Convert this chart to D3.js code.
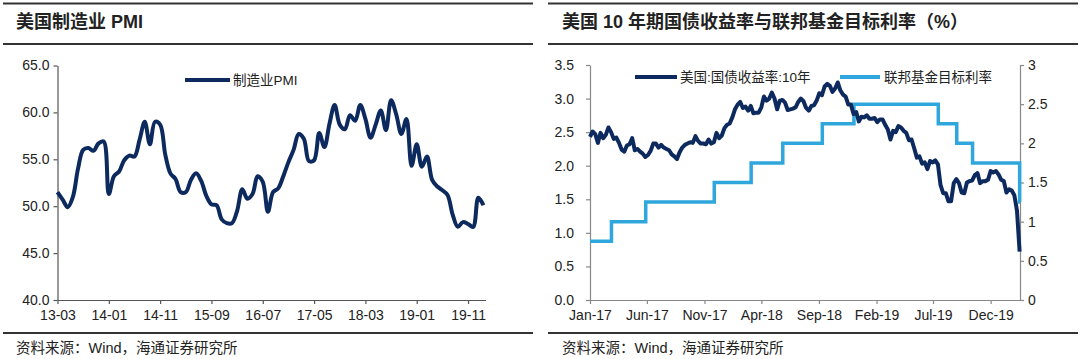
<!DOCTYPE html>
<html><head><meta charset="utf-8">
<script src="https://cdn.jsdelivr.net/npm/d3@7"></script>
<style>
body{margin:0;background:#fff}
svg{display:block}
text{font-family:"Liberation Sans",Arial,"Noto Sans CJK SC",sans-serif;fill:#222}
.cjk{font-family:"Liberation Sans","Noto Sans CJK SC",sans-serif}
</style>
</head><body>
<svg id="c" width="1080" height="359"></svg>
<script>
// ---------------- DATA ----------------
const leftTitle = "美国制造业 PMI";
const rightTitle = "美国 10 年期国债收益率与联邦基金目标利率（%）";
const sourceText = "资料来源：Wind，海通证券研究所";

// ISM manufacturing PMI, monthly from 2013-03
const pmiStart = "2013-03";
const pmiValues = [
  51.5, 50.7, 49.9, 51.0, 54.0, 56.0, 56.2, 55.9, 56.7, 56.9,          // 2013-03..12
  51.3, 53.2, 53.7, 54.9, 55.4, 55.3, 57.1, 59.0, 56.6, 59.0, 58.7, 55.5, // 2014
  53.5, 52.9, 51.5, 51.5, 52.8, 53.5, 52.7, 51.1, 50.2, 50.1, 48.6, 48.2, // 2015
  48.2, 49.5, 51.8, 50.8, 51.3, 53.2, 52.6, 49.4, 51.5, 51.9, 53.2, 54.7, // 2016
  56.0, 57.7, 57.2, 54.8, 54.9, 57.8, 56.3, 58.8, 60.8, 58.7, 58.2, 59.7, // 2017
  59.1, 60.8, 59.3, 57.3, 58.7, 60.2, 58.1, 61.3, 59.8, 57.7, 59.3, 54.3, // 2018
  56.6, 54.2, 55.3, 52.8, 52.1, 51.7, 51.2, 49.1, 47.8, 48.3, 48.1, 47.8, // 2019
  50.9, 50.1                                                               // 2020
];
const pmiTickLabels = ["13-03","14-01","14-11","15-09","16-07","17-05","18-03","19-01","19-11"];
const pmiYTicks = [40, 45, 50, 55, 60, 65];
const pmiLegend = "制造业PMI";

// US 10Y treasury yield, weekly from 2017-01-18
const yieldStart = "2017-01-18";
const yieldValues = [
  2.43, 2.51,  2.47, 2.34, 2.49, 2.41,  2.46, 2.57, 2.50, 2.40, 2.42,  2.34, 2.24, 2.21, 2.30,
  2.32, 2.41, 2.23, 2.25, 2.21,  2.18, 2.13, 2.16, 2.22,  2.33, 2.33, 2.27, 2.31,
  2.27, 2.25, 2.23, 2.17, 2.14,  2.10, 2.20, 2.27, 2.31,  2.33, 2.35, 2.34, 2.44,
  2.37, 2.33, 2.33, 2.32, 2.39,  2.33, 2.35, 2.49, 2.41,
  2.45, 2.56, 2.61, 2.63, 2.72,  2.84, 2.91, 2.95, 2.86,  2.88, 2.82, 2.89, 2.78,
  2.79, 2.79, 2.87, 3.03,  2.97, 3.00, 3.09, 3.00, 2.84,  2.97, 2.98, 2.94, 2.83,
  2.84, 2.85, 2.87, 2.95,  3.00, 2.96, 2.86, 2.82, 2.89,  2.90, 2.97, 3.08, 3.05,
  3.18, 3.22, 3.19, 3.10, 3.15,  3.24, 3.12, 3.06, 3.03,  2.91, 2.91, 2.77, 2.80,
  2.66, 2.73, 2.72, 2.75, 2.70,  2.70, 2.71, 2.65, 2.69,  2.69, 2.61, 2.54, 2.39,
  2.52, 2.50, 2.59, 2.57,  2.52, 2.49, 2.38, 2.39, 2.26,  2.12, 2.14, 2.03, 2.05,
  1.95, 2.07, 2.05, 2.08, 2.02,  1.71, 1.59, 1.59, 1.47,  1.47, 1.74, 1.80, 1.74,
  1.60, 1.59, 1.75, 1.77, 1.78,  1.86, 1.89, 1.74, 1.77,  1.77, 1.79, 1.92, 1.90,
  1.92, 1.87, 1.79, 1.77, 1.60,  1.65, 1.63, 1.56, 1.33,  0.72
];
// Fed funds target rate (upper bound)
const fedDates = ["2017-01-18","2017-03-16","2017-06-15","2017-12-14","2018-03-22","2018-06-14",
                  "2018-09-27","2018-12-20","2019-08-01","2019-09-19","2019-10-31","2020-03-04","2020-03-05"];
const fedRates = [0.75, 1.00, 1.25, 1.50, 1.75, 2.00, 2.25, 2.50, 2.25, 2.00, 1.75, 1.25, 1.25];
const rateXEnd = "2020-03-05";
const rateTickLabels = ["Jan-17","Jun-17","Nov-17","Apr-18","Sep-18","Feb-19","Jul-19","Dec-19"];
const yieldYTicks = [0, 0.5, 1.0, 1.5, 2.0, 2.5, 3.0, 3.5];
const fedYTicks = [0, 0.5, 1, 1.5, 2, 2.5, 3];
const yieldLegend = "美国:国债收益率:10年";
const fedLegend = "联邦基金目标利率";

// ---------------- DRAW ----------------
const svg = d3.select("#c");
svg.append("rect").attr("width",1080).attr("height",359).attr("fill","#fff");
const NAVY = "#0d2a5e", LBLUE = "#2fa7dc";

function frame(x1, x2, title, tx) {
  svg.append("line").attr("x1",x1).attr("x2",x2).attr("y1",3.5).attr("y2",3.5).attr("stroke","#333").attr("stroke-width",2);
  svg.append("line").attr("x1",x1).attr("x2",x2).attr("y1",44).attr("y2",44).attr("stroke","#333").attr("stroke-width",2);
  svg.append("line").attr("x1",x1).attr("x2",x2).attr("y1",333).attr("y2",333).attr("stroke","#333").attr("stroke-width",2);
  svg.append("text").attr("class","cjk").attr("x",tx).attr("y",28).attr("font-size",18).attr("font-weight","bold").attr("fill","#111").text(title);
  svg.append("text").attr("class","cjk").attr("x",tx).attr("y",353).attr("font-size",14.5).attr("fill","#333").text(sourceText);
}
frame(3, 533, leftTitle, 16);
frame(548, 1078, rightTitle, 562);

function styleAxis(g, color) {
  g.selectAll("path,line").attr("stroke", color).attr("stroke-width",1.2);
  g.selectAll("text").attr("font-size",14).attr("fill","#222").attr("font-family","Liberation Sans, Arial, sans-serif");
}

// ----- Left chart -----
const pStart = d3.timeParse("%Y-%m")(pmiStart);
const fmtMon = d3.timeFormat("%y-%m");
const pmiData = pmiValues.map((v,i) => ({i, label: fmtMon(d3.timeMonth.offset(pStart,i)), v}));
const xP = d3.scaleLinear().domain([0, 83.4]).range([57.5, 485.5]);
const yP = d3.scaleLinear().domain([40, 65]).range([300, 65.5]);
const pmiTickIdx = pmiData.filter(d => pmiTickLabels.includes(d.label)).map(d => d.i);

const gxP = svg.append("g").attr("transform","translate(0,300)")
  .call(d3.axisBottom(xP).tickValues(pmiTickIdx).tickSize(4).tickSizeOuter(0).tickPadding(6)
    .tickFormat(i => pmiData[i].label));
styleAxis(gxP, "#555");
const gyP = svg.append("g").attr("transform","translate(57.5,0)")
  .call(d3.axisLeft(yP).tickValues(pmiYTicks).tickSize(4).tickSizeOuter(0).tickPadding(4)
    .tickFormat(d3.format(".1f")));
styleAxis(gyP, "#555");

svg.append("path").datum(pmiData)
  .attr("d", d3.line().x(d => xP(d.i)).y(d => yP(d.v)).curve(d3.curveCatmullRom.alpha(0.5)))
  .attr("fill","none").attr("stroke",NAVY).attr("stroke-width",4).attr("stroke-linejoin","round");

svg.append("line").attr("x1",185).attr("x2",230).attr("y1",80).attr("y2",80).attr("stroke",NAVY).attr("stroke-width",4);
svg.append("text").attr("class","cjk").attr("x",233).attr("y",85).attr("font-size",13.5).attr("fill","#333").text(pmiLegend);

// ----- Right chart -----
const parseD = d3.timeParse("%Y-%m-%d");
const yStart = parseD(yieldStart);
const yieldData = yieldValues.map((v,i) => ({d: d3.timeWeek.offset(yStart, i), v}));
const fedData = fedDates.map((s,i) => ({d: parseD(s), v: fedRates[i]}));
const xR = d3.scaleTime().domain([yStart, parseD(rateXEnd)]).range([590, 1020]);
const yL = d3.scaleLinear().domain([0, 3.5]).range([300, 65]);
const yR = d3.scaleLinear().domain([0, 3]).range([300, 65]);
const rateTicks = rateTickLabels.map((l,k) => d3.timeMonth.offset(yStart, 5*k));

const gxR = svg.append("g").attr("transform","translate(0,300)")
  .call(d3.axisBottom(xR).tickValues(rateTicks).tickSize(4).tickSizeOuter(0).tickPadding(6)
    .tickFormat((d,k) => rateTickLabels[k]));
styleAxis(gxR, "#888");
const gyL = svg.append("g").attr("transform","translate(590,0)")
  .call(d3.axisLeft(yL).tickValues(yieldYTicks).tickSize(4).tickSizeOuter(0).tickPadding(12)
    .tickFormat(d3.format(".1f")));
styleAxis(gyL, "#888");
const gyR = svg.append("g").attr("transform","translate(1020,0)")
  .call(d3.axisRight(yR).tickValues(fedYTicks).tickSize(4).tickSizeOuter(0).tickPadding(4)
    .tickFormat(d3.format("~g")));
styleAxis(gyR, "#888");

svg.append("path").datum(fedData)
  .attr("d", d3.line().x(d => xR(d.d)).y(d => yR(d.v)).curve(d3.curveStepAfter))
  .attr("fill","none").attr("stroke",LBLUE).attr("stroke-width",3.5);
svg.append("path").datum(yieldData)
  .attr("d", d3.line().x(d => xR(d.d)).y(d => yL(d.v)))
  .attr("fill","none").attr("stroke",NAVY).attr("stroke-width",4).attr("stroke-linejoin","round");

svg.append("line").attr("x1",635).attr("x2",677).attr("y1",77).attr("y2",77).attr("stroke",NAVY).attr("stroke-width",4);
svg.append("text").attr("class","cjk").attr("x",680).attr("y",82).attr("font-size",13.5).attr("fill","#333").text(yieldLegend);
svg.append("line").attr("x1",840).attr("x2",880).attr("y1",77).attr("y2",77).attr("stroke",LBLUE).attr("stroke-width",4);
svg.append("text").attr("class","cjk").attr("x",884).attr("y",82).attr("font-size",13.5).attr("fill","#333").text(fedLegend);
</script>
</body></html>
